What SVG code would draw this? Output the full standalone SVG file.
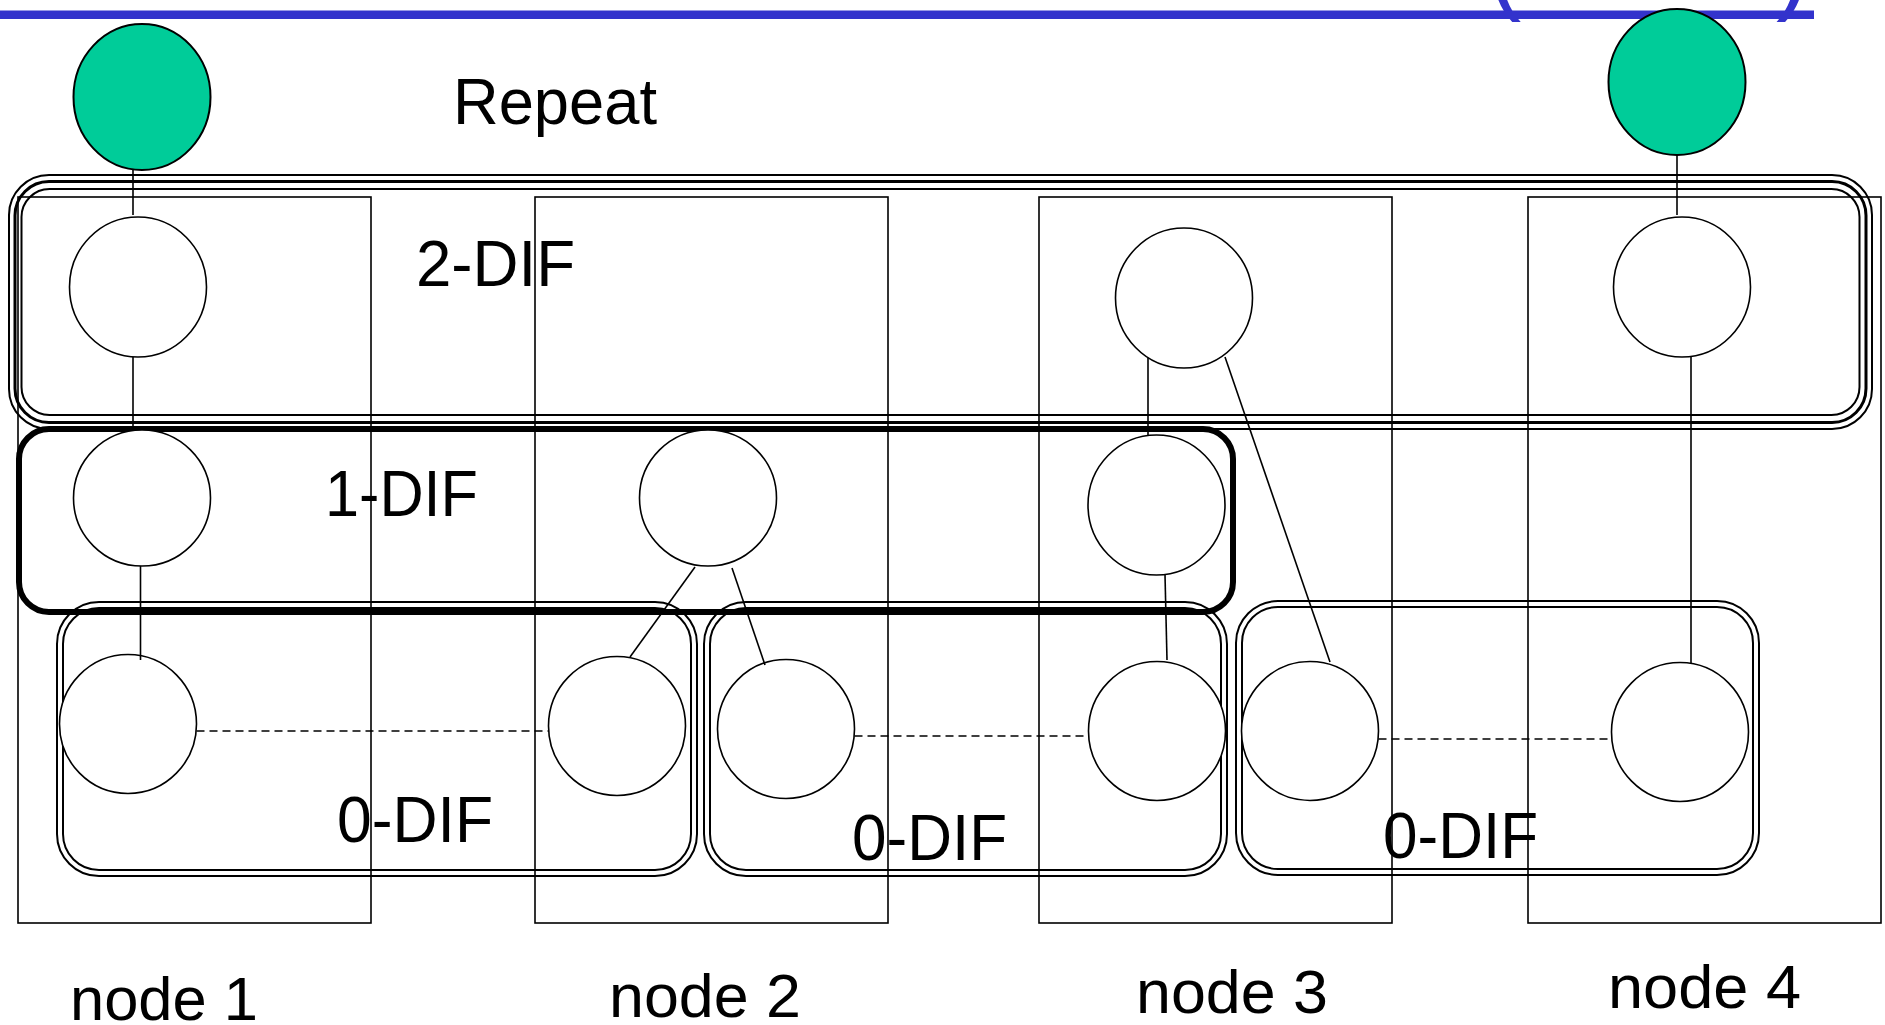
<svg xmlns="http://www.w3.org/2000/svg" width="1885" height="1025" viewBox="0 0 1885 1025">
  <style>
    .lbl { font-family: "Liberation Sans", Arial, sans-serif; fill: #000; }
    .big { font-size: 64px; }
    .nodebox { fill: none; stroke: #000; stroke-width: 1.6; }
    .ipc { fill: #fff; stroke: #000; stroke-width: 1.6; }
    .app { fill: #00CC99; stroke: #000; stroke-width: 2; }
    .link { stroke: #000; stroke-width: 1.6; fill: none; }
    .flow { stroke: #000; stroke-width: 1.6; stroke-dasharray: 8 5; fill: none; }
    .dif2 { fill: none; stroke: #000; }
    .dif1 { fill: none; stroke: #000; stroke-width: 6; }
    .dif0 { fill: none; stroke: #000; stroke-width: 2; }
    .title { font-family: "Liberation Sans", Arial, sans-serif; font-size: 100px; fill: #3333CC; }
  </style>

  <!-- slide header: rule under the title -->
  <g id="header">
    <text class="title" x="1488" y="0.5">(</text>
    <text class="title" x="1776" y="0.5">)</text>
    <rect x="0" y="10.5" width="1814" height="8.5" fill="#3333CC"/>
  </g>

  <!-- DIF scopes -->
  <g id="dif-2">
    <rect class="dif2" x="9" y="175" width="1863" height="254" rx="40" ry="40" stroke-width="2"/>
    <rect class="dif2" x="15" y="181.5" width="1851" height="241" rx="34" ry="34" stroke-width="3"/>
    <rect class="dif2" x="21.5" y="189" width="1838" height="226" rx="28" ry="28" stroke-width="2"/>
    <text class="lbl big" x="416" y="286" textLength="159" lengthAdjust="spacingAndGlyphs">2-DIF</text>
  </g>

  <g id="dif-1">
    <rect class="dif1" x="19" y="429" width="1214" height="183" rx="30" ry="30"/>
    <text class="lbl big" x="325" y="516" textLength="153" lengthAdjust="spacingAndGlyphs">1-DIF</text>
  </g>

  <g id="dif-0a">
    <rect class="dif0" x="57" y="602" width="640" height="274" rx="42" ry="42"/>
    <rect class="dif0" x="63" y="608" width="628" height="262" rx="36" ry="36"/>
    <text class="lbl big" x="337" y="842" textLength="156" lengthAdjust="spacingAndGlyphs">0-DIF</text>
  </g>
  <g id="dif-0b">
    <rect class="dif0" x="704" y="602" width="523" height="274" rx="42" ry="42"/>
    <rect class="dif0" x="710" y="608" width="511" height="262" rx="36" ry="36"/>
    <text class="lbl big" x="852" y="860" textLength="155" lengthAdjust="spacingAndGlyphs">0-DIF</text>
  </g>
  <g id="dif-0c">
    <rect class="dif0" x="1236" y="601" width="523" height="274" rx="42" ry="42"/>
    <rect class="dif0" x="1242" y="607" width="511" height="262" rx="36" ry="36"/>
    <text class="lbl big" x="1383" y="858" textLength="155" lengthAdjust="spacingAndGlyphs">0-DIF</text>
  </g>

  <!-- systems -->
  <g id="node-1">
    <rect class="nodebox" x="18" y="197" width="353" height="726"/>
    <text class="lbl" font-size="62" x="70" y="1020" textLength="188" lengthAdjust="spacingAndGlyphs">node 1</text>
  </g>
  <g id="node-2">
    <rect class="nodebox" x="535" y="197" width="353" height="726"/>
    <text class="lbl" font-size="62" x="609" y="1017" textLength="192" lengthAdjust="spacingAndGlyphs">node 2</text>
  </g>
  <g id="node-3">
    <rect class="nodebox" x="1039" y="197" width="353" height="726"/>
    <text class="lbl" font-size="62" x="1136" y="1013" textLength="192" lengthAdjust="spacingAndGlyphs">node 3</text>
  </g>
  <g id="node-4">
    <rect class="nodebox" x="1528" y="197" width="353" height="726"/>
    <text class="lbl" font-size="62" x="1608" y="1008" textLength="193" lengthAdjust="spacingAndGlyphs">node 4</text>
  </g>

  <!-- applications -->
  <g id="app-1"><ellipse class="app" cx="142" cy="97" rx="68.5" ry="73"/></g>
  <g id="app-2"><ellipse class="app" cx="1677" cy="82" rx="68.5" ry="73"/></g>
  <g id="repeat-label"><text class="lbl big" x="453" y="124" textLength="204" lengthAdjust="spacingAndGlyphs">Repeat</text></g>

  <!-- IPC processes, rank 2 -->
  <g id="ipc-2-n1"><ellipse class="ipc" cx="138" cy="287" rx="68.5" ry="70"/></g>
  <g id="ipc-2-n3"><ellipse class="ipc" cx="1184" cy="298" rx="68.5" ry="70"/></g>
  <g id="ipc-2-n4"><ellipse class="ipc" cx="1682" cy="287" rx="68.5" ry="70"/></g>
  <!-- rank 1 -->
  <g id="ipc-1-n1"><ellipse class="ipc" cx="142" cy="498" rx="68.5" ry="68"/></g>
  <g id="ipc-1-n2"><ellipse class="ipc" cx="708" cy="498" rx="68.5" ry="68"/></g>
  <g id="ipc-1-n3"><ellipse class="ipc" cx="1156.5" cy="505" rx="68.5" ry="70"/></g>
  <!-- rank 0 -->
  <g id="ipc-0-n1"><ellipse class="ipc" cx="128" cy="724" rx="68.5" ry="69.5"/></g>
  <g id="ipc-0-n2a"><ellipse class="ipc" cx="617" cy="726" rx="68.5" ry="69.5"/></g>
  <g id="ipc-0-n2b"><ellipse class="ipc" cx="786" cy="729" rx="68.5" ry="69.5"/></g>
  <g id="ipc-0-n3a"><ellipse class="ipc" cx="1157" cy="731" rx="68.5" ry="69.5"/></g>
  <g id="ipc-0-n3b"><ellipse class="ipc" cx="1310" cy="731" rx="68.5" ry="69.5"/></g>
  <g id="ipc-0-n4"><ellipse class="ipc" cx="1680" cy="732" rx="68.5" ry="69.5"/></g>

  <!-- bindings between ranks and flows within a rank -->
  <g id="connectors">
    <line class="link" x1="133" y1="170" x2="133" y2="215"/>
    <line class="link" x1="133" y1="357" x2="133" y2="430"/>
    <line class="link" x1="140.5" y1="566" x2="140.5" y2="660"/>
    <line class="link" x1="695" y1="567" x2="630" y2="657"/>
    <line class="link" x1="732" y1="568" x2="765" y2="665"/>
    <line class="link" x1="1148" y1="358" x2="1148" y2="435"/>
    <line class="link" x1="1225" y1="357" x2="1330" y2="662"/>
    <line class="link" x1="1165" y1="575" x2="1167" y2="660"/>
    <line class="link" x1="1677" y1="155" x2="1677" y2="215"/>
    <line class="link" x1="1691" y1="357" x2="1691" y2="663"/>
    <line class="flow" x1="196.5" y1="731" x2="549" y2="731"/>
    <line class="flow" x1="854.5" y1="736" x2="1089" y2="736"/>
    <line class="flow" x1="1378.5" y1="739" x2="1612" y2="739"/>
  </g>
</svg>
